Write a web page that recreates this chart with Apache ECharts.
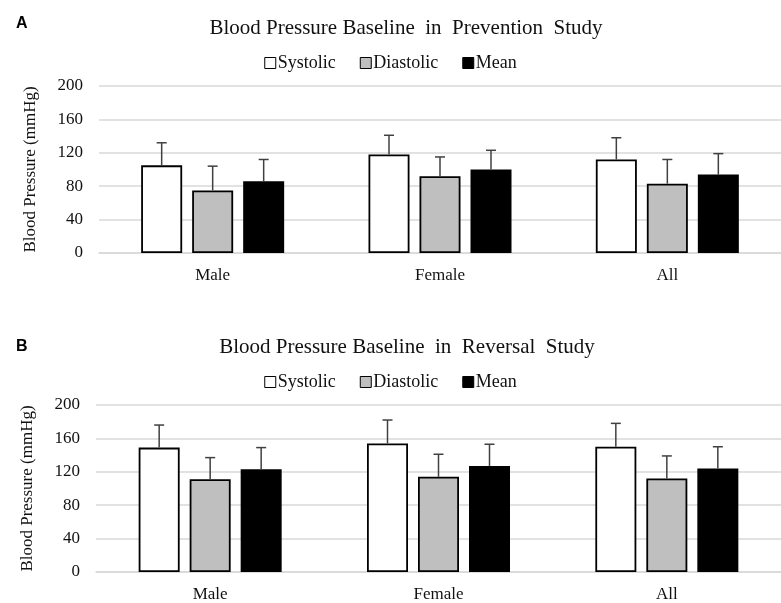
<!DOCTYPE html>
<html>
<head>
<meta charset="utf-8">
<script src="https://cdn.jsdelivr.net/npm/echarts@6/dist/echarts.min.js"></script>
<style>html,body{margin:0;padding:0;background:#fff;}#c{width:781px;height:603px;}</style>
</head>
<body>
<div id="c"></div>
<script>
var categories = ['Male', 'Female', 'All'];
var seriesNames = ['Systolic', 'Diastolic', 'Mean'];
var yTicks = [0, 40, 80, 120, 160, 200];

// Panel A: Prevention study
var prevSystolic = [105, 118, 112];
var prevSystolicSD = [27, 23, 26];
var prevDiastolic = [75, 92, 83];
var prevDiastolicSD = [29, 23, 29];
var prevMean = [86, 100, 94];
var prevMeanSD = [26, 23, 25];

// Panel B: Reversal study
var revSystolic = [149, 154, 150];
var revSystolicSD = [27, 28, 28];
var revDiastolic = [111, 114, 112];
var revDiastolicSD = [26, 27, 27];
var revMean = [123, 127, 124];
var revMeanSD = [26, 26, 26];

var serif = 'Liberation Serif';
var colors = ['#ffffff', '#bfbfbf', '#000000'];
var BAR_W = 41, BAR_GAP = 10;

function barSeries(name, data, idx, axisIdx) {
  return {
    name: name, type: 'bar', xAxisIndex: axisIdx, yAxisIndex: axisIdx,
    data: data, barWidth: BAR_W, barGap: (BAR_GAP / BAR_W * 100) + '%',
    itemStyle: { color: colors[idx], borderColor: '#000', borderWidth: 1.8 },
    emphasis: { disabled: true }
  };
}
function errSeries(vals, sds, idx, axisIdx) {
  var data = vals.map(function (v, i) { return [i, v, v + sds[i]]; });
  var off = (idx - 1) * (BAR_W + BAR_GAP);
  return {
    type: 'custom', xAxisIndex: axisIdx, yAxisIndex: axisIdx, z: 3,
    data: data, encode: { x: 0, y: [1, 2] }, silent: true,
    renderItem: function (params, api) {
      var lo = api.coord([api.value(0), api.value(1)]);
      var hi = api.coord([api.value(0), api.value(2)]);
      var x = lo[0] + off;
      var st = { stroke: '#404040', lineWidth: 1.5 };
      return {
        type: 'group', children: [
          { type: 'line', shape: { x1: x, y1: lo[1], x2: x, y2: hi[1] }, style: st },
          { type: 'line', shape: { x1: x - 5, y1: hi[1], x2: x + 5, y2: hi[1] }, style: st }
        ]
      };
    }
  };
}
function xAx(gi) {
  return {
    type: 'category', gridIndex: gi, data: categories,
    axisLine: { show: true, lineStyle: { color: '#d9d9d9', width: 1.5 } },
    axisTick: { show: false },
    axisLabel: { fontFamily: serif, fontSize: 17, color: '#111', margin: 14 }
  };
}
function yAx(gi) {
  return {
    type: 'value', gridIndex: gi, min: yTicks[0], max: yTicks[yTicks.length - 1], interval: 40,
    name: 'Blood Pressure (mmHg)', nameLocation: 'middle', nameGap: 60,
    nameTextStyle: { fontFamily: serif, fontSize: 17, color: '#111' },
    axisLine: { show: false }, axisTick: { show: false },
    axisLabel: { fontFamily: serif, fontSize: 17, color: '#111', margin: 16 },
    splitLine: { lineStyle: { color: '#d9d9d9', width: 1.5 } }
  };
}
function legendData() {
  return seriesNames.map(function (n, i) {
    return { name: n, itemStyle: { color: colors[i], borderColor: '#000', borderWidth: 1 } };
  });
}

var chart = echarts.init(document.getElementById('c'));
chart.setOption({
  animation: false,
  backgroundColor: '#fff',
  title: [
    { text: 'A', left: 11, top: 11, textStyle: { fontFamily: 'Liberation Sans', fontSize: 16, fontWeight: 'bold', color: '#000' } },
    { text: 'Blood Pressure Baseline  in  Prevention  Study', left: 401, top: 13, textAlign: 'center',
      textStyle: { fontFamily: serif, fontSize: 21, fontWeight: 'normal', color: '#111' } },
    { text: 'B', left: 11, top: 334, textStyle: { fontFamily: 'Liberation Sans', fontSize: 16, fontWeight: 'bold', color: '#000' } },
    { text: 'Blood Pressure Baseline  in  Reversal  Study', left: 402, top: 332, textAlign: 'center',
      textStyle: { fontFamily: serif, fontSize: 21, fontWeight: 'normal', color: '#111' } }
  ],
  legend: [
    { data: legendData(), left: 'center', top: 49, icon: 'rect', itemWidth: 11, itemHeight: 11, itemGap: 24,
      selectedMode: false, textStyle: { fontFamily: serif, fontSize: 18, color: '#111', padding: [0, 0, 0, -3] } },
    { data: legendData(), left: 'center', top: 368, icon: 'rect', itemWidth: 11, itemHeight: 11, itemGap: 24,
      selectedMode: false, textStyle: { fontFamily: serif, fontSize: 18, color: '#111', padding: [0, 0, 0, -3] } }
  ],
  grid: [
    { left: 99, width: 690, top: 86, height: 167 },
    { left: 96, width: 687, top: 405, height: 167 }
  ],
  xAxis: [xAx(0), xAx(1)],
  yAxis: [yAx(0), yAx(1)],
  series: [
    barSeries('Systolic', prevSystolic, 0, 0),
    barSeries('Diastolic', prevDiastolic, 1, 0),
    barSeries('Mean', prevMean, 2, 0),
    errSeries(prevSystolic, prevSystolicSD, 0, 0),
    errSeries(prevDiastolic, prevDiastolicSD, 1, 0),
    errSeries(prevMean, prevMeanSD, 2, 0),
    barSeries('Systolic', revSystolic, 0, 1),
    barSeries('Diastolic', revDiastolic, 1, 1),
    barSeries('Mean', revMean, 2, 1),
    errSeries(revSystolic, revSystolicSD, 0, 1),
    errSeries(revDiastolic, revDiastolicSD, 1, 1),
    errSeries(revMean, revMeanSD, 2, 1)
  ]
});
</script>
</body>
</html>
